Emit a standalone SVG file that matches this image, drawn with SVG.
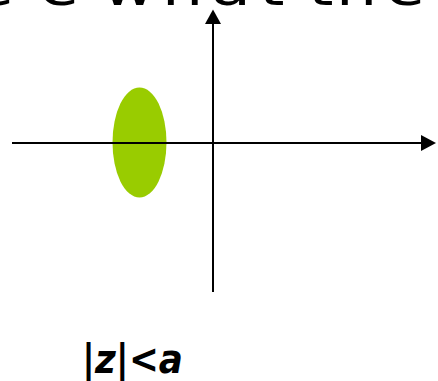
<svg xmlns="http://www.w3.org/2000/svg" width="438" height="381" viewBox="0 0 438 381">
<style>
.ax{stroke:#000;stroke-width:2;fill:none}
.head{fill:#000}
.title{font-family:"DejaVu Sans","Noto Sans",sans-serif;font-size:52px;fill:#000}
.lbl{font-family:"DejaVu Sans","Noto Sans",sans-serif;font-size:40px;font-weight:bold;font-style:italic;fill:#000}
</style>
<rect width="438" height="381" fill="#fff"/>
<text class="title" transform="scale(1.25,1)" y="5" x="-20.8 31.2 70 81.6 129.6 168.8 207.2 230 246.4 268.8 308">ee what the</text>
<g id="region">
<ellipse cx="139.5" cy="142.5" rx="27" ry="55" fill="#99cc00"/>
</g>
<g id="connectors">
<line class="ax" x1="12" y1="143" x2="422" y2="143"/>
<polygon class="head" points="436,143 421,135 421,151"/>
<line class="ax" x1="213" y1="292" x2="213" y2="23"/>
<polygon class="head" points="213,9.5 205,24 221,24"/>
</g>
<g id="label">
<text class="lbl" x="82" y="373" textLength="101" lengthAdjust="spacingAndGlyphs">|z|&lt;a</text>
</g>
</svg>
